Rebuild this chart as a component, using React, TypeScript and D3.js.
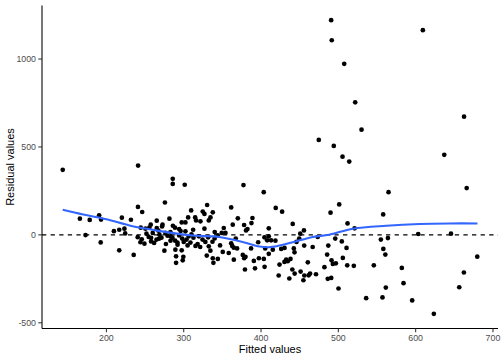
import React from "react";
import * as d3 from "d3";

// Fitted values (x) and residuals (y)
const fittedValues: number[] = [
  143.5, 241, 165.7, 173, 178.4, 190.6, 193.1, 192.6, 209.7, 216.6, 220, 216.6, 223.3, 224.3, 231.7, 235.3, 240.8, 246.3, 244.4, 255.6,
  240.5, 245.7, 244, 249.2, 254.7, 257.8, 275.7, 285.8, 285.8, 301.3, 361.4, 330.3, 309.6, 324.6, 326.8, 337.6, 334.6, 281.5, 265.1, 305.7,
  314.8, 316, 321.6, 302.2, 297.4, 332.4, 272.6, 288.7, 257.3, 265.1, 294.1, 302.2, 312.2, 326.8, 351.8, 363.4, 340.1, 344, 354, 349.2,
  259.9, 276.3, 282.8, 294.1, 298, 306.5, 319.5, 331.6, 264.8, 282.9, 288.9, 257.8, 261.7, 315.2, 321.3, 332.4, 275, 289.2, 297.4, 334.5,
  350.5, 358.2, 362.7, 290.1, 299.5, 329.8, 337.6, 344.1, 290.1, 298.7, 338.4, 268.6, 271.2, 279, 285.4, 291.9, 308.7, 312.6, 250.5, 251.8,
  267.3, 303.6, 324.3, 337.2, 377.3, 403.5, 419, 427.3, 370, 388.9, 387.6, 378.1, 441, 410, 382.4, 455.5, 450.7, 404.4, 410, 413,
  407.9, 418.6, 361.4, 367.3, 396.3, 449.4, 445.9, 455.8, 466.8, 473.3, 364.7, 369, 387.1, 405.4, 415.2, 426.1, 430.4, 442.4, 443.3, 410,
  376.4, 379.9, 378.2, 364.8, 390.7, 397.2, 403.6, 438.1, 434.6, 432.5, 430.3, 423.9, 460.5, 379.2, 392.2, 404.6, 440.5, 422.8, 436.6, 443.5,
  451.2, 456, 461.6, 463.4, 471.1, 380.6, 454.8, 482, 486.3, 485.5, 474.7, 490.7, 491.5, 507.6, 521.8, 530, 494.1, 505.4, 514.1, 564.9,
  501.1, 489.9, 558, 511.9, 521, 496, 504.5, 555, 564.1, 487, 510.6, 558.2, 560.8, 505.8, 491.2, 492.9, 496.8, 511.5, 520, 545.9,
  582.1, 490.8, 561.4, 584.3, 500.2, 536, 557.1, 595.5, 637, 609.3, 662.6, 666, 603.3, 645.7, 679.7, 662.4, 656.4, 623.5,
  268, 277, 283, 292, 300, 310, 318, 328, 340, 347, 272, 286, 296, 305,
];

const residualValues: number[] = [
  370, 394, 92, -1, 85, 111, 87, -43, 21, -88, 98, 29, 35, 8, 86, -114, 159, 130, 41, 42,
  -13, -25, -42, -50, -12, -37, 184, 319, 290, 285, 156, 170, 139, 133, 119, 128, 99, 92, 81, 99,
  99, 82, 77, 71, 71, 82, 58, 41, 58, 39, 33, 20, 29, 35, 39, 58, 16, -3, 11, 11,
  11, 11, 16, -3, -21, -8, -8, -14, -27, -33, -33, -17, -46, -63, -69, -65, -90, -84, -88, -90,
  -97, -103, -63, -122, -125, -118, -133, -137, -159, -145, -159, 1, -16, -5, -16, -44, -44, -16, 35, 7,
  24, -27, -27, -39, 283, 243, 153, 132, 94, 96, 67, 56, 62, 37, 33, 25, 7, -14, -8, -31,
  -31, -33, -48, -21, -42, -21, -40, -61, -69, -12, -73, -77, -77, -77, -84, -80, -74, -77, -99, -108,
  -114, -125, -133, -141, -148, -133, -137, -137, -150, -141, -154, -169, -156, -197, -190, -182, -197, -231, -248, -220,
  -209, -231, -230, -220, -224, 25, -258, -184, -250, -112, 540, 1221, 1107, 973, 754, 598, 506, 445, 417, 243,
  173, 126, 116, 65, 37, -21, -37, -27, -18, -61, -74, -80, -112, -131, -145, -165, -162, -173, -176, -173,
  -188, -245, -300, -275, -305, -360, -356, -373, 455, 1164, 672, 266, 5, 7, -124, -214, -298, -449,
  -22, -52, -8, -56, -40, 3, -52, -40, -20, -60, 48, 52, 22, -60,
];

// Smoothed (loess) trend
const smoothX: number[] = [143.5, 170, 200, 231, 262, 312, 346, 381, 398, 410, 420, 441, 467, 488, 519, 562, 605, 645, 680];
const smoothY: number[] = [143, 116, 89, 52, 27, -4, -12, -46, -66, -70, -65, -42, -12, 1, 35, 52, 62, 65, 65];

const xTicks: number[] = [200, 300, 400, 500, 600, 700];
const yTicks: number[] = [-500, 0, 500, 1000];

const xLabel = "Fitted values";
const yLabel = "Residual values";

export default function App() {
  const W = 504;
  const H = 360;
  const left = 42;
  const right = 498;
  const top = 5.5;
  const bottom = 328.5;

  const xExt = d3.extent(fittedValues) as [number, number];
  const yExt = d3.extent(residualValues) as [number, number];
  const xPad = (xExt[1] - xExt[0]) * 0.05;
  const yPad = (yExt[1] - yExt[0]) * 0.05;

  const x = d3.scaleLinear().domain([xExt[0] - xPad, xExt[1] + xPad]).range([left, right]);
  const y = d3.scaleLinear().domain([yExt[0] - yPad, yExt[1] + yPad]).range([bottom, top]);

  const points = fittedValues.map((fv, i) => ({ fv, r: residualValues[i] }));
  const smooth = smoothX.map((sx, i) => [sx, smoothY[i]] as [number, number]);
  const line = d3
    .line<[number, number]>()
    .x((d) => x(d[0]))
    .y((d) => y(d[1]))
    .curve(d3.curveCatmullRom.alpha(0.5));

  const font = "'Liberation Sans', Arial, Helvetica, sans-serif";

  return (
    <svg
      width={W}
      height={H}
      style={{ position: "absolute", left: 0, top: 0, background: "#fff" }}
      fontFamily={font}
    >
      <rect x={0} y={0} width={W} height={H} fill="#fff" />
      {points.map((p, i) => (
        <circle key={i} cx={x(p.fv)} cy={y(p.r)} r={2.35} fill="#000" />
      ))}
      <line
        x1={left}
        x2={right}
        y1={y(0)}
        y2={y(0)}
        stroke="#000"
        strokeWidth={1.07}
        strokeDasharray="4.3,4.3"
      />
      <path d={line(smooth) || ""} fill="none" stroke="#3366FF" strokeWidth={2.1} />

      {/* axes */}
      <line x1={left} x2={left} y1={top} y2={bottom} stroke="#000" strokeWidth={1.07} />
      <line x1={left} x2={right} y1={bottom} y2={bottom} stroke="#000" strokeWidth={1.07} />
      {yTicks.map((t) => (
        <g key={"y" + t}>
          <line x1={left - 3.7} x2={left} y1={y(t)} y2={y(t)} stroke="#333" strokeWidth={1.07} />
          <text x={left - 6} y={y(t)} dy="0.35em" textAnchor="end" fontSize={8.8} fill="#4D4D4D">
            {t}
          </text>
        </g>
      ))}
      {xTicks.map((t) => (
        <g key={"x" + t}>
          <line x1={x(t)} x2={x(t)} y1={bottom} y2={bottom + 3.7} stroke="#333" strokeWidth={1.07} />
          <text x={x(t)} y={340.5} textAnchor="middle" fontSize={8.8} fill="#4D4D4D">
            {t}
          </text>
        </g>
      ))}
      <text x={(left + right) / 2} y={353.3} textAnchor="middle" fontSize={11} fill="#000">
        {xLabel}
      </text>
      <text
        transform={`translate(14.3, ${(top + bottom) / 2}) rotate(-90)`}
        textAnchor="middle"
        fontSize={11}
        fill="#000"
      >
        {yLabel}
      </text>
    </svg>
  );
}
